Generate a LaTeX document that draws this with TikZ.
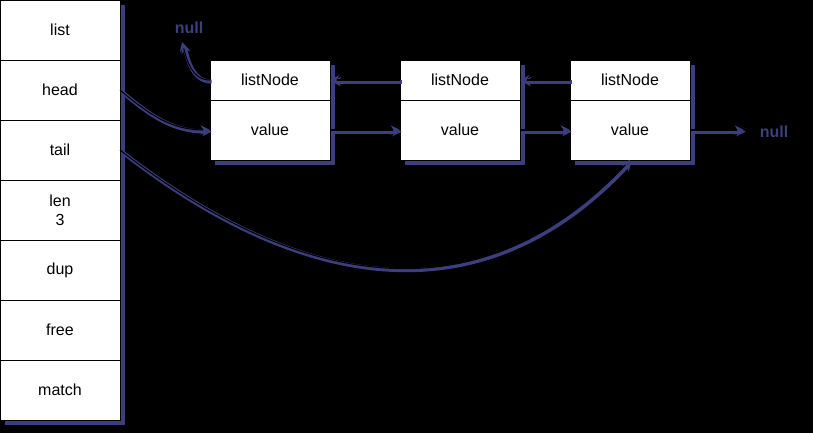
\documentclass[tikz,border=0pt]{standalone}
\usepackage{fontspec}
\setmainfont{Liberation Sans}
\usetikzlibrary{positioning,shadows,arrows.meta}
\definecolor{shadowblue}{RGB}{60,62,125}
\tikzset{
  cell/.style={draw=black,fill=white,inner sep=0pt,outer sep=0pt,minimum width=90pt,minimum height=45pt,
    font=\fontsize{12}{14}\selectfont,align=center,
    general shadow={fill=shadowblue,shadow xshift=3.5pt,shadow yshift=-3.5pt}},
  headcell/.style={cell,minimum height=30pt},
  link/.style={draw=black,line width=0.8pt,
    -{Stealth[length=7pt,width=7pt,color=shadowblue,fill=black,line width=1.3pt]},
    preaction={draw=shadowblue,line width=3pt,
      transform canvas={shift={(1.2pt,-1.2pt)}}}},
  nulltext/.style={font=\fontsize{12}{14}\bfseries,text=shadowblue,inner sep=0pt}
}
\begin{document}
\begin{tikzpicture}[x=0.75pt,y=-0.75pt]
  \fill[black] (0,0) rectangle (813,433);
  \useasboundingbox (0,0) rectangle (813,433);
  % list struct
  \node[cell] (list) at (60,30) {list};
  \node[cell,below=0pt of list] (head) {head};
  \node[cell,below=0pt of head] (tail) {tail};
  \node[cell,below=0pt of tail] (len) {len\\3};
  \node[cell,below=0pt of len] (dup) {dup};
  \node[cell,below=0pt of dup] (free) {free};
  \node[cell,below=0pt of free] (match) {match};
  % nodes
  \node[headcell] (n1) at (270,80) {listNode};
  \node[cell,below=0pt of n1] (n1v) {value};
  \node[headcell,right=52.5pt of n1] (n2) {listNode};
  \node[cell,below=0pt of n2] (n2v) {value};
  \node[headcell,right=37.5pt of n2] (n3) {listNode};
  \node[cell,below=0pt of n3] (n3v) {value};
  \node[nulltext] (nullA) at (189,28) {null};
  \node[nulltext] (nullB) at (774,132) {null};
  \coordinate (nullAin) at (182,42);
  \coordinate (nullBin) at (744,130);
  % pointers
  \draw[link] (n2.west) -- (n1.east);
  \draw[link] (n3.west) -- (n2.east);
  \draw[link] (n1v.east) -- (n2v.west);
  \draw[link] (n2v.east) -- (n3v.west);
  \draw[link] (n3v.east) -- (nullBin);
  \draw[link] (n1.west) to[out=180,in=-75] (nullAin);
  \draw[link] (head.east) to[out=-40,in=180] (n1v.west);
  \draw[link] (tail.east) .. controls (300,290) and (480,320) .. (n3v.south);
\end{tikzpicture}
\end{document}
